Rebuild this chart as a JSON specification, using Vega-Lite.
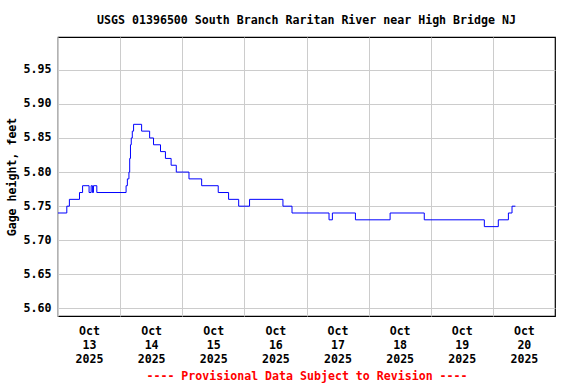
{
  "$schema": "https://vega.github.io/schema/vega-lite/v6.json",
  "width": 497,
  "height": 279,
  "autosize": {"type": "none"},
  "padding": {"left": 58, "top": 37, "right": 21, "bottom": 68},
  "background": "white",
  "title": {
    "text": "USGS 01396500 South Branch Raritan River near High Bridge NJ",
    "font": "DejaVu Sans Mono",
    "fontSize": 11.6,
    "fontWeight": "bold",
    "color": "black",
    "anchor": "middle",
    "offset": 10
  },
  "config": {
    "view": {"stroke": "black", "strokeWidth": 1.2},
    "axis": {
      "labelFont": "DejaVu Sans Mono",
      "labelFontSize": 11.6,
      "labelFontWeight": "bold",
      "labelColor": "black",
      "titleFont": "DejaVu Sans Mono",
      "titleFontSize": 11.6,
      "titleFontWeight": "bold",
      "titleColor": "black",
      "gridColor": "#cccccc",
      "gridWidth": 1,
      "gridOpacity": 1,
      "domain": false,
      "ticks": false
    }
  },
  "data": {
    "values": [
      {"t": "2025-10-13T00:00", "v": 5.74},
      {"t": "2025-10-13T03:24", "v": 5.75},
      {"t": "2025-10-13T04:24", "v": 5.76},
      {"t": "2025-10-13T08:18", "v": 5.77},
      {"t": "2025-10-13T09:30", "v": 5.78},
      {"t": "2025-10-13T12:00", "v": 5.77},
      {"t": "2025-10-13T12:48", "v": 5.78},
      {"t": "2025-10-13T13:18", "v": 5.77},
      {"t": "2025-10-13T13:42", "v": 5.78},
      {"t": "2025-10-13T15:00", "v": 5.77},
      {"t": "2025-10-14T02:18", "v": 5.78},
      {"t": "2025-10-14T02:48", "v": 5.79},
      {"t": "2025-10-14T03:24", "v": 5.80},
      {"t": "2025-10-14T03:42", "v": 5.82},
      {"t": "2025-10-14T04:00", "v": 5.84},
      {"t": "2025-10-14T04:18", "v": 5.85},
      {"t": "2025-10-14T04:42", "v": 5.86},
      {"t": "2025-10-14T05:12", "v": 5.87},
      {"t": "2025-10-14T08:18", "v": 5.86},
      {"t": "2025-10-14T11:24", "v": 5.85},
      {"t": "2025-10-14T12:54", "v": 5.84},
      {"t": "2025-10-14T15:36", "v": 5.83},
      {"t": "2025-10-14T17:30", "v": 5.82},
      {"t": "2025-10-14T19:42", "v": 5.81},
      {"t": "2025-10-14T21:42", "v": 5.80},
      {"t": "2025-10-15T02:36", "v": 5.79},
      {"t": "2025-10-15T07:30", "v": 5.78},
      {"t": "2025-10-15T13:54", "v": 5.77},
      {"t": "2025-10-15T17:54", "v": 5.76},
      {"t": "2025-10-15T21:48", "v": 5.75},
      {"t": "2025-10-16T02:00", "v": 5.76},
      {"t": "2025-10-16T14:54", "v": 5.75},
      {"t": "2025-10-16T18:24", "v": 5.74},
      {"t": "2025-10-17T08:42", "v": 5.73},
      {"t": "2025-10-17T10:00", "v": 5.74},
      {"t": "2025-10-17T18:54", "v": 5.73},
      {"t": "2025-10-18T08:18", "v": 5.74},
      {"t": "2025-10-18T21:30", "v": 5.73},
      {"t": "2025-10-19T20:42", "v": 5.72},
      {"t": "2025-10-20T02:06", "v": 5.73},
      {"t": "2025-10-20T06:00", "v": 5.74},
      {"t": "2025-10-20T07:24", "v": 5.75},
      {"t": "2025-10-20T08:42", "v": 5.75}
    ]
  },
  "mark": {"type": "line", "interpolate": "step-after", "color": "#0000ff", "strokeWidth": 1},
  "encoding": {
    "x": {
      "field": "t",
      "type": "temporal",
      "scale": {"domain": ["2025-10-13T00:00", "2025-10-21T00:00"], "nice": false},
      "axis": {
        "values": ["2025-10-13T00:00", "2025-10-14T00:00", "2025-10-15T00:00", "2025-10-16T00:00", "2025-10-17T00:00", "2025-10-18T00:00", "2025-10-19T00:00", "2025-10-20T00:00"],
        "labelExpr": "[timeFormat(datum.value, '%b'), timeFormat(datum.value, '%d'), timeFormat(datum.value, '%Y')]",
        "labelOffset": 31,
        "labelLineHeight": 14,
        "labelPadding": 9,
        "labelOverlap": false,
        "labelBound": false,
        "labelFlush": false,
        "labelAlign": "center",
        "title": "---- Provisional Data Subject to Revision ----",
        "titleColor": "#ff0000",
        "titlePadding": 6,
        "grid": true
      }
    },
    "y": {
      "field": "v",
      "type": "quantitative",
      "scale": {"domain": [5.589, 5.998], "nice": false, "zero": false},
      "axis": {
        "values": [5.6, 5.65, 5.7, 5.75, 5.8, 5.85, 5.9, 5.95],
        "format": ".2f",
        "labelPadding": 7,
        "title": "Gage height, feet",
        "titlePadding": 6,
        "grid": true
      }
    }
  }
}
